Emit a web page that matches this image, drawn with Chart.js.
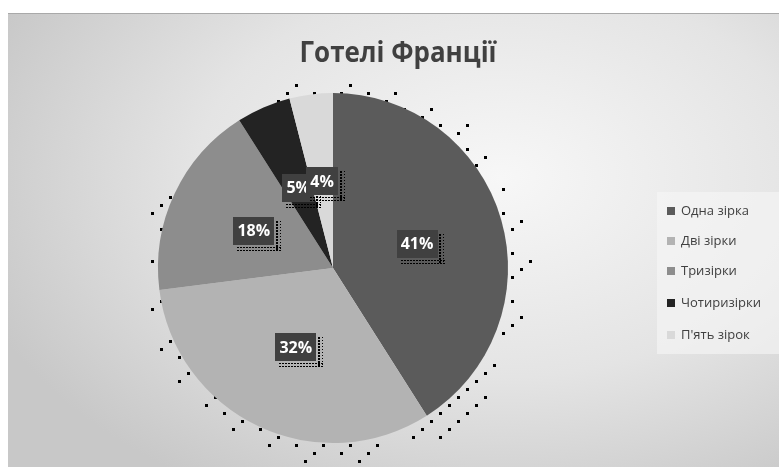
<!DOCTYPE html>
<html>
<head>
<meta charset="utf-8">
<script src="https://cdn.jsdelivr.net/npm/chart.js@4"></script>
<style>
  html, body { margin: 0; padding: 0; background: #fff; }
  #wrap { position: relative; width: 779px; height: 467px; overflow: hidden; }
  #panel {
    position: absolute; left: 8px; top: 13px; width: 771px; height: 454px;
    border-top: 1px solid #a9a9a9;
    background: radial-gradient(ellipse 72% 80% at 64% 36%, #f7f7f7 0%, #e4e4e4 55%, #c8c8c8 100%);
  }
  #legendBox {
    position: absolute; left: 657px; top: 192px; width: 122px; height: 162px;
    background: rgba(246, 246, 246, 0.6);
  }
  canvas { position: absolute; left: 0; top: 0; }
</style>
</head>
<body>
<div id="wrap">
  <div id="panel"></div>
  <div id="legendBox"></div>
  <canvas id="chart" width="779" height="467"></canvas>
</div>
<script>
// chart data
const title = "Готелі Франції";
const categories = ["Одна зірка", "Дві зірки", "Тризірки", "Чотиризірки", "П'ять зірок"];
const shares = [41, 32, 18, 5, 4];
const sliceColors = ["#5b5b5b", "#b3b3b3", "#8d8d8d", "#232323", "#d9d9d9"];

// title, dotted shadow, value labels and legend are drawn by hand
const decorPlugin = {
  id: "decor",
  beforeDatasetsDraw(chart) {
    const ctx = chart.ctx;
    const arc = chart.getDatasetMeta(0).data[0];
    const cx = arc.x, cy = arc.y, r = arc.outerRadius;
    ctx.save();
    ctx.fillStyle = "#000";
    // sparse dither-like shadow ring around the pie
    for (let y = cy - r - 25; y < cy + r + 25; y += 8) {
      for (let x = cx - r - 25; x < cx + r + 25; x += 9) {
        const d = Math.hypot(x - cx - 4, y - cy - 2);
        if (d < r - 2 || d > r + 20) continue;
        const k = (Math.floor(x / 9) * 7 + Math.floor(y / 8) * 13) % 6;
        const t = (d - r) / 20;
        if ((k === 0) || (k === 3 && t < 0.4)) ctx.fillRect(Math.round(x), Math.round(y), 3, 3);
      }
    }
    ctx.restore();
  },
  afterDraw(chart) {
    const ctx = chart.ctx;
    ctx.save();

    // title
    ctx.fillStyle = "#404040";
    ctx.font = "bold 29px 'Open Sans'";
    ctx.textBaseline = "alphabetic";
    const tw = ctx.measureText(title).width;
    const target = 197;
    ctx.translate(398, 62);
    ctx.scale(target / tw, 1);
    ctx.textAlign = "center";
    ctx.fillText(title, 0, 0);
    ctx.setTransform(1, 0, 0, 1, 0, 0);

    // value labels
    const meta = chart.getDatasetMeta(0);
    const total = shares.reduce((a, b) => a + b, 0);
    ctx.font = "bold 16px 'Open Sans'";
    ctx.textAlign = "center";
    ctx.textBaseline = "middle";
    meta.data.forEach((el, i) => {
      const mid = (el.startAngle + el.endAngle) / 2;
      const rr = el.outerRadius * 0.5;
      const x = el.x + Math.cos(mid) * rr;
      const y = el.y + Math.sin(mid) * rr;
      const txt = Math.round(shares[i] / total * 100) + "%";
      const w = ctx.measureText(txt).width + 8;
      const h = 28;
      // dotted shadow
      ctx.fillStyle = "#000";
      for (let sx = x - w / 2 + 4; sx < x + w / 2 + 8; sx += 3) {
        ctx.fillRect(Math.round(sx), Math.round(y + h / 2 + 2), 2, 1);
        ctx.fillRect(Math.round(sx), Math.round(y + h / 2 + 5), 2, 1);
      }
      for (let sy = y - h / 2 + 4; sy < y + h / 2 + 4; sy += 3) {
        ctx.fillRect(Math.round(x + w / 2 + 2), Math.round(sy), 2, 2);
        ctx.fillRect(Math.round(x + w / 2 + 6), Math.round(sy), 1, 1);
      }
      ctx.fillStyle = "#404040";
      ctx.fillRect(Math.round(x - w / 2), Math.round(y - h / 2), Math.round(w), h);
      ctx.fillStyle = "#ffffff";
      ctx.fillText(txt, x, y + 1);
    });

    // legend
    ctx.font = "13px 'Open Sans'";
    ctx.textAlign = "left";
    ctx.textBaseline = "middle";
    const rows = [211, 241, 271, 303, 335];
    categories.forEach((c, i) => {
      ctx.fillStyle = sliceColors[i];
      ctx.fillRect(667, rows[i] - 4, 8, 8);
      ctx.fillStyle = "#404040";
      ctx.fillText(c, 681, rows[i]);
    });
    ctx.restore();
  }
};

new Chart(document.getElementById("chart"), {
  type: "pie",
  data: {
    labels: categories,
    datasets: [{
      data: shares,
      backgroundColor: sliceColors,
      borderWidth: 0
    }]
  },
  options: {
    responsive: false,
    animation: false,
    layout: { padding: { left: 158, right: 271, top: 93, bottom: 24 } },
    plugins: {
      legend: { display: false },
      tooltip: { enabled: false }
    }
  },
  plugins: [decorPlugin]
});
</script>
</body>
</html>
